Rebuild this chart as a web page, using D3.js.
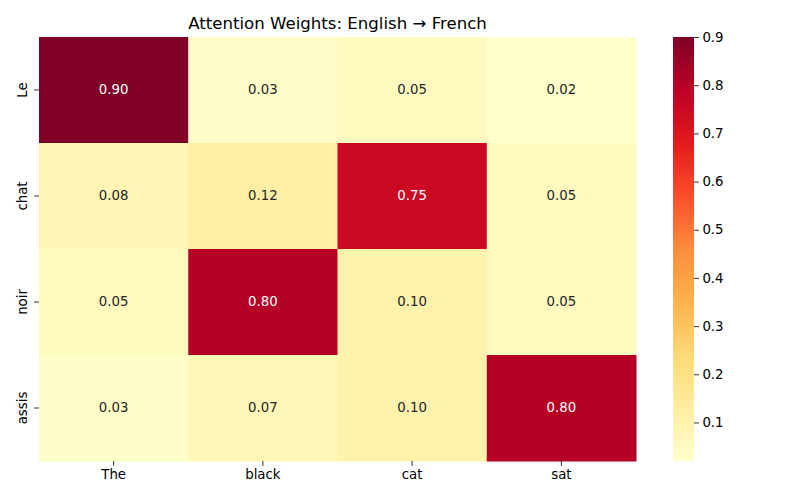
<!DOCTYPE html>
<html><head><meta charset="utf-8">
<script src="https://cdn.jsdelivr.net/npm/d3@7"></script>
<style>body{margin:0;background:#fff}svg{font-family:"DejaVu Sans",sans-serif}</style>
</head><body>
<script>
const source = ["The", "black", "cat", "sat"];
const target = ["Le", "chat", "noir", "assis"];
const weights = [
  [0.90, 0.03, 0.05, 0.02],
  [0.08, 0.12, 0.75, 0.05],
  [0.05, 0.80, 0.10, 0.05],
  [0.03, 0.07, 0.10, 0.80]
];
const cbarTicks = [0.1, 0.2, 0.3, 0.4, 0.5, 0.6, 0.7, 0.8, 0.9];
const ylorrd = ["#ffffcc","#ffeda0","#fed976","#feb24c","#fd8d3c","#fc4e2a","#e31a1c","#bd0026","#800026"];

const W = 800, H = 500;
const L = 39, R = 636, T = 37, B = 461;
const svg = d3.select("body").append("svg").attr("width", W).attr("height", H);

const flat = weights.flat();
const vmin = d3.min(flat), vmax = d3.max(flat);
const color = d3.scaleLinear()
  .domain(ylorrd.map((_, i) => vmin + (vmax - vmin) * i / (ylorrd.length - 1)))
  .range(ylorrd).interpolate(d3.interpolateRgb).clamp(true);

const x = d3.scaleBand().domain(source).range([L, R]);
const y = d3.scaleBand().domain(target).range([T, B]);

const cells = [];
target.forEach((t, i) => source.forEach((s, j) => cells.push({t, s, v: weights[i][j]})));

svg.append("g").selectAll("rect").data(cells).join("rect")
  .attr("x", d => x(d.s)).attr("y", d => y(d.t))
  .attr("width", x.bandwidth() + 0.5).attr("height", y.bandwidth() + 0.5)
  .attr("fill", d => color(d.v));

function lum(c) {
  const r = d3.rgb(c);
  const f = v => { v /= 255; return v <= 0.03928 ? v / 12.92 : Math.pow((v + 0.055) / 1.055, 2.4); };
  return 0.2126 * f(r.r) + 0.7152 * f(r.g) + 0.0722 * f(r.b);
}
svg.append("g").selectAll("text").data(cells).join("text")
  .attr("x", d => x(d.s) + x.bandwidth() / 2)
  .attr("y", d => y(d.t) + y.bandwidth() / 2 - 0.5)
  .attr("text-anchor", "middle").attr("dominant-baseline", "central")
  .attr("font-size", 13.3)
  .attr("fill", d => lum(color(d.v)) > 0.408 ? "#262626" : "#ffffff")
  .text(d => d.v.toFixed(2));

const xAxis = svg.append("g").attr("transform", `translate(0,${B})`)
  .call(d3.axisBottom(x).tickSize(4.9).tickPadding(3.5));
xAxis.select(".domain").remove();
xAxis.selectAll("text").attr("font-size", 13.3).attr("fill", "#000").attr("font-family", "DejaVu Sans");
xAxis.selectAll("line").attr("stroke", "#000").attr("stroke-width", 0.8);

const yAxis = svg.append("g").attr("transform", `translate(${L},0)`)
  .call(d3.axisLeft(y).tickSize(4.9).tickPadding(3.5));
yAxis.select(".domain").remove();
yAxis.selectAll("line").attr("stroke", "#000").attr("stroke-width", 0.8);
yAxis.selectAll("text")
  .attr("font-size", 13.3).attr("fill", "#000").attr("font-family", "DejaVu Sans")
  .attr("text-anchor", "middle").attr("x", null).attr("y", 0)
  .attr("transform", "translate(-17,0) rotate(-90)").attr("dy", "0.35em");

svg.append("text").attr("x", (L + R) / 2).attr("y", 29)
  .attr("text-anchor", "middle").attr("font-size", 16.6).attr("fill", "#000")
  .text("Attention Weights: English \u2192 French");

// colorbar
const cbL = 673, cbW = 21;
const cy = d3.scaleLinear().domain([vmin, vmax]).range([B, T]);
const defs = svg.append("defs");
const grad = defs.append("linearGradient").attr("id", "cbg")
  .attr("x1", 0).attr("y1", 1).attr("x2", 0).attr("y2", 0);
ylorrd.forEach((c, i) => grad.append("stop").attr("offset", i / (ylorrd.length - 1)).attr("stop-color", c));
svg.append("rect").attr("x", cbL).attr("y", T).attr("width", cbW).attr("height", B - T).attr("fill", "url(#cbg)");
const cAxis = svg.append("g").attr("transform", `translate(${cbL + cbW},0)`)
  .call(d3.axisRight(cy).tickValues(cbarTicks).tickFormat(d3.format(".1f")).tickSize(4.9).tickPadding(3.5));
cAxis.select(".domain").remove();
cAxis.selectAll("line").attr("stroke", "#000").attr("stroke-width", 0.8);
cAxis.selectAll("text").attr("font-size", 13.3).attr("fill", "#000").attr("font-family", "DejaVu Sans");
</script>
</body></html>
